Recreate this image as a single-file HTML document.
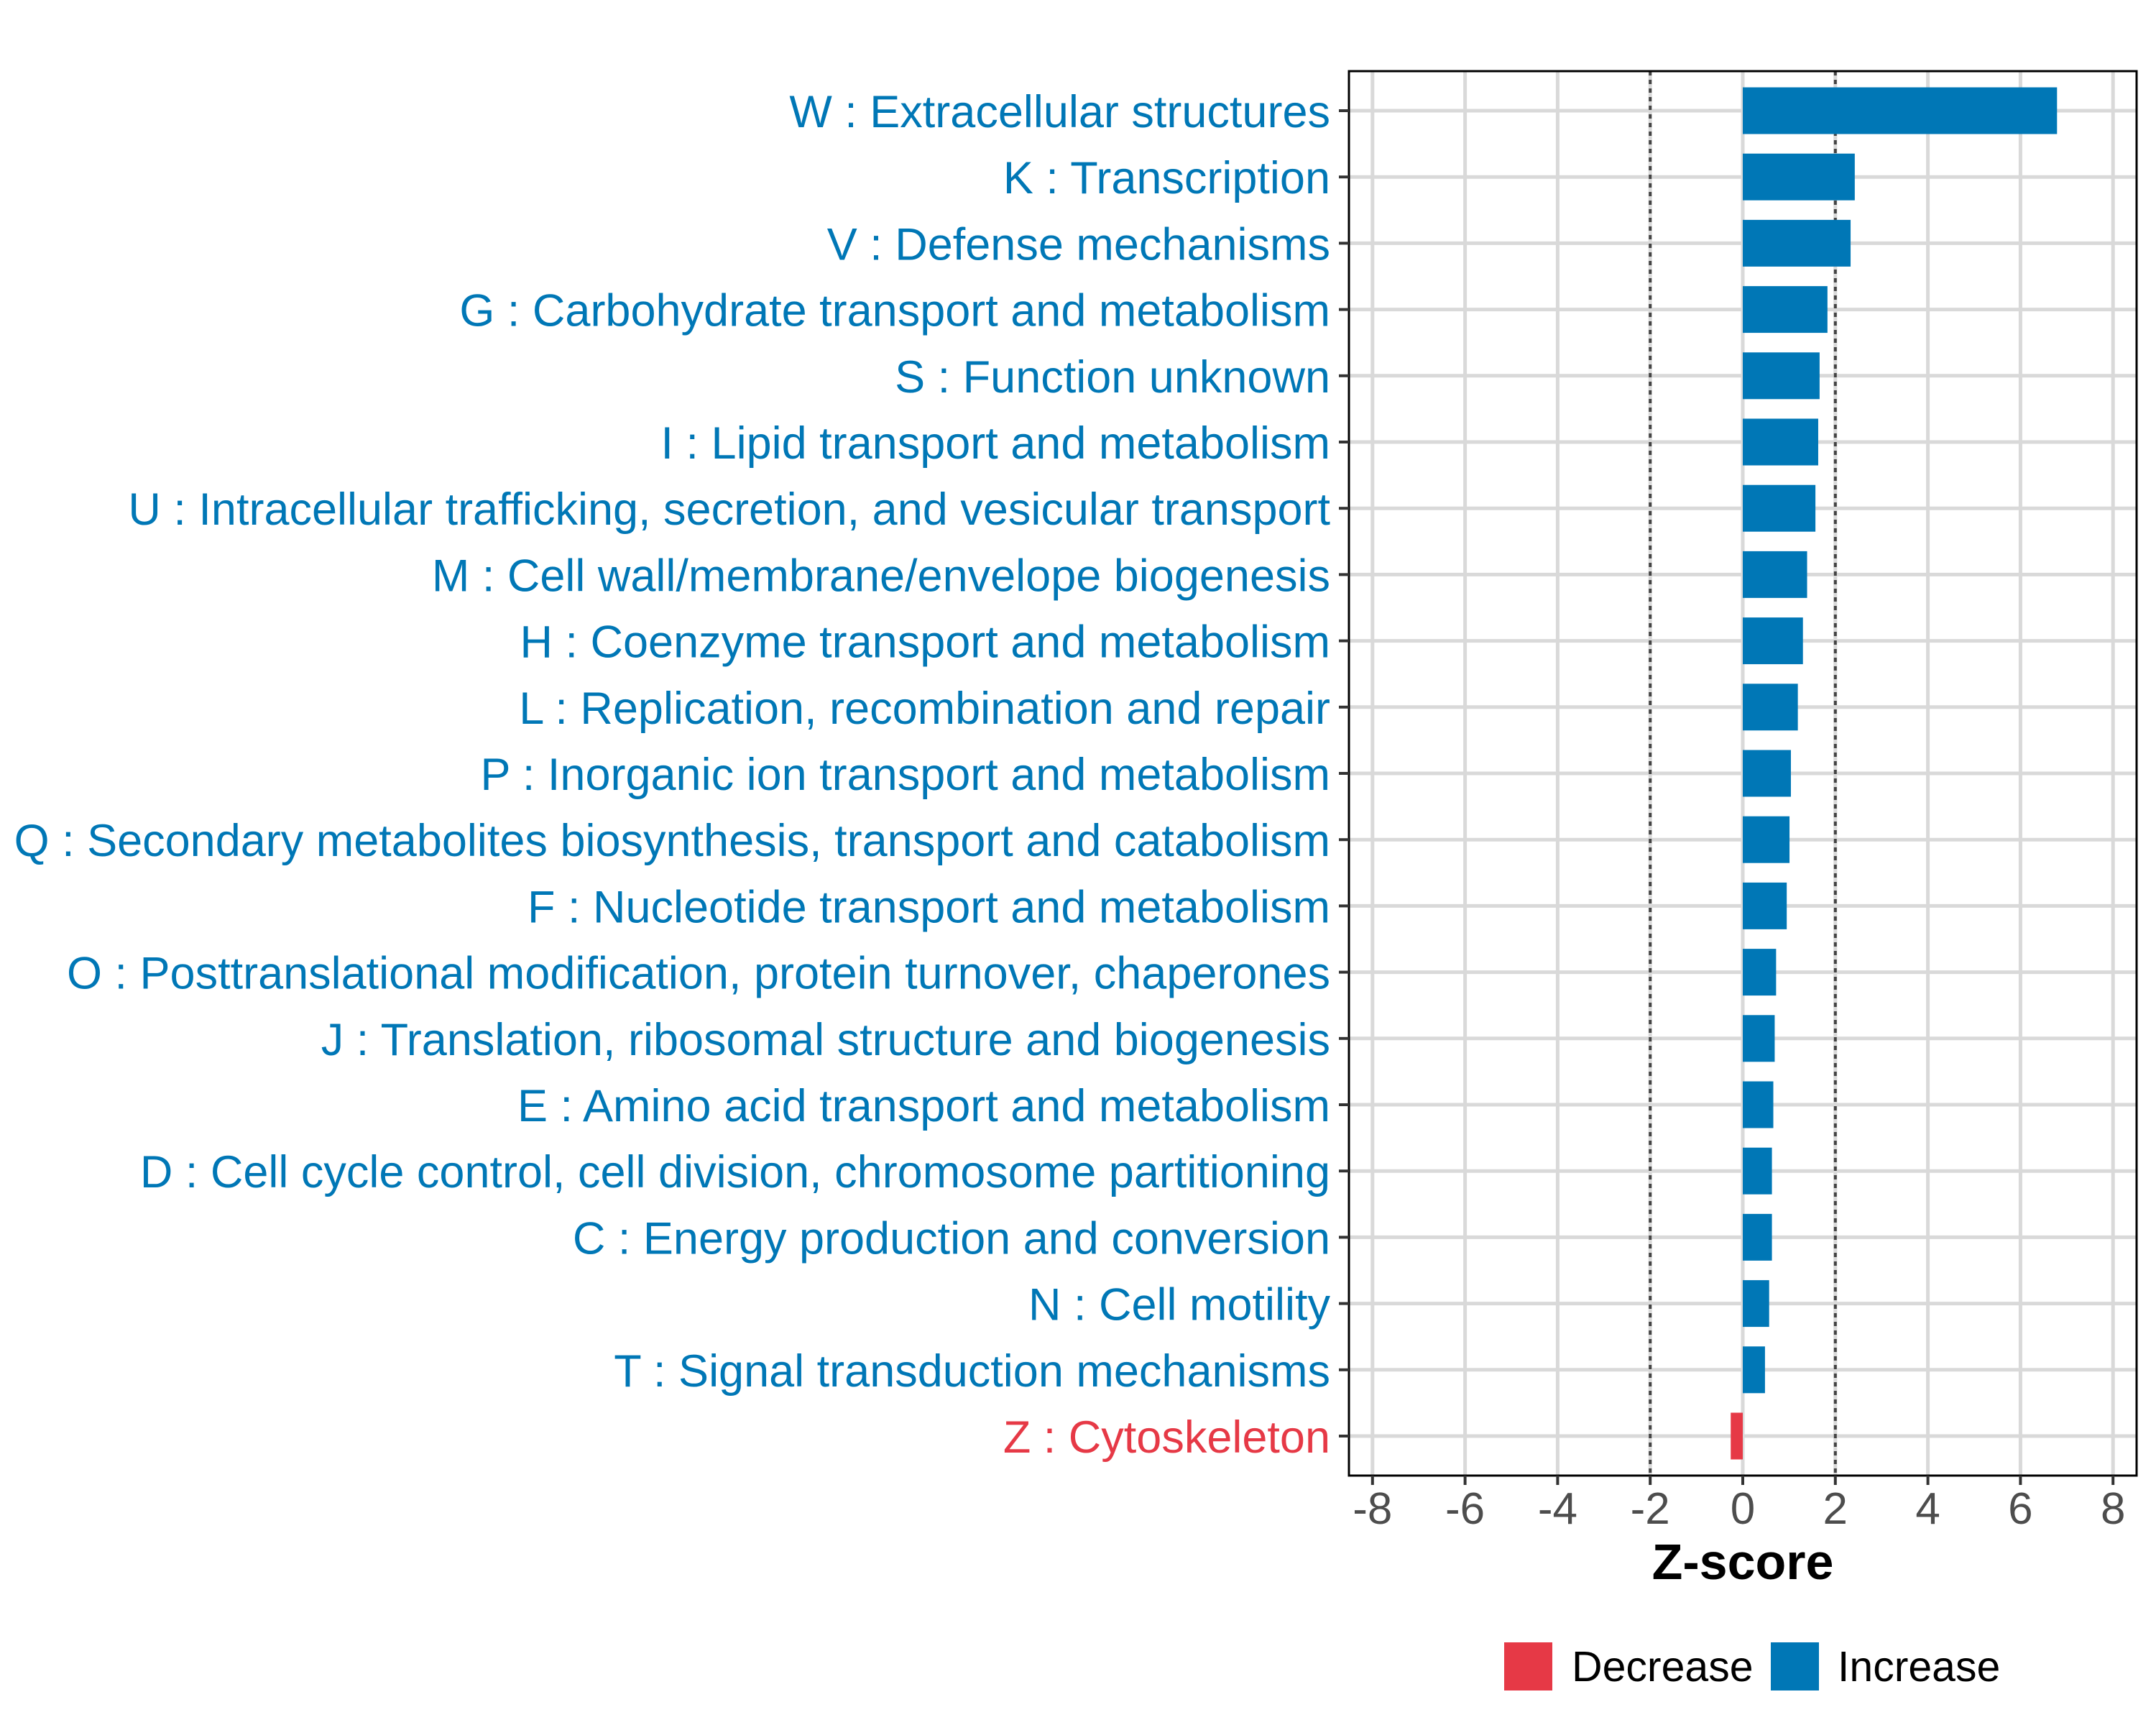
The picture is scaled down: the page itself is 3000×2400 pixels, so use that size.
<!DOCTYPE html>
<html><head><meta charset="utf-8"><style>
html,body{margin:0;padding:0;background:#fff;}
svg{display:block;font-family:"Liberation Sans",Arial,sans-serif;}
</style></head><body>
<svg id="chart" width="3000" height="2400" viewBox="0 0 3000 2400" xmlns="http://www.w3.org/2000/svg">
<rect width="3000" height="2400" fill="#fff"/>
<g id="grid"></g>
<g id="refs"></g>
<g id="bars"></g>
<rect x="1877" y="99" width="1096" height="1954" fill="none" stroke="#000" stroke-width="3"/>
<g id="yaxis"></g>
<g id="xaxis"></g>
<text x="2425" y="2197" font-size="70" font-weight="bold" text-anchor="middle" fill="#000">Z-score</text>
<g>
<rect x="2093" y="2285" width="67" height="67" fill="#e63946"/>
<text x="2187" y="2339" font-size="59" fill="#000">Decrease</text>
<rect x="2464" y="2285" width="67" height="67" fill="#0077b6"/>
<text x="2557" y="2339" font-size="59" fill="#000">Increase</text>
</g>
</svg>
<script>
const categories = [
"W : Extracellular structures","K : Transcription","V : Defense mechanisms",
"G : Carbohydrate transport and metabolism","S : Function unknown",
"I : Lipid transport and metabolism",
"U : Intracellular trafficking, secretion, and vesicular transport",
"M : Cell wall/membrane/envelope biogenesis","H : Coenzyme transport and metabolism",
"L : Replication, recombination and repair","P : Inorganic ion transport and metabolism",
"Q : Secondary metabolites biosynthesis, transport and catabolism",
"F : Nucleotide transport and metabolism",
"O : Posttranslational modification, protein turnover, chaperones",
"J : Translation, ribosomal structure and biogenesis",
"E : Amino acid transport and metabolism",
"D : Cell cycle control, cell division, chromosome partitioning",
"C : Energy production and conversion","N : Cell motility",
"T : Signal transduction mechanisms","Z : Cytoskeleton"];
const zscores = [6.79,2.42,2.33,1.83,1.66,1.63,1.57,1.39,1.30,1.19,1.04,1.01,0.95,0.72,0.69,0.66,0.63,0.63,0.57,0.48,-0.26];
const xTicks = [-8,-6,-4,-2,0,2,4,6,8];
const xTickLabels = ["-8","-6","-4","-2","0","2","4","6","8"];
const refLines = [-2,2];

const NS="http://www.w3.org/2000/svg";
const X0=2425, XU=64.4;
function xs(v){return X0+v*XU;}
function ys(i){return 154+i*92.2;}
const BLUE="#0077b6", RED="#e63946";
function mk(tag,attrs,parent){const e=document.createElementNS(NS,tag);for(const k in attrs)e.setAttribute(k,attrs[k]);parent.appendChild(e);return e;}
const grid=document.getElementById('grid'),refs=document.getElementById('refs'),bars=document.getElementById('bars'),yax=document.getElementById('yaxis'),xax=document.getElementById('xaxis');

xTicks.forEach((t,i)=>{
  const g=mk('line',{x1:xs(t),x2:xs(t),y1:99,y2:2053,stroke:"#d9d9d9","stroke-width":5},grid);
  
  
  const tk=mk('line',{x1:xs(t),x2:xs(t),y1:2053,y2:2066,stroke:"#333","stroke-width":4},xax);
  
  
  const lb=mk('text',{x:xs(t),y:2120,"font-size":62,"text-anchor":"middle",fill:"#4d4d4d"},xax);
  lb.textContent=xTickLabels[i];
  
  
});
categories.forEach((c,i)=>{
  const g=mk('line',{x1:1877,x2:2973,y1:ys(i),y2:ys(i),stroke:"#d9d9d9","stroke-width":5},grid);
  
  
});
refLines.forEach(r=>{
  const l=mk('line',{x1:xs(r),x2:xs(r),y1:99,y2:2053,stroke:"#444","stroke-width":4,"stroke-dasharray":"6 6"},refs);
  
  
});
categories.forEach((c,i)=>{
  const v=zscores[i], col=v<0?RED:BLUE;
  const x=Math.min(xs(0),xs(v)), w=Math.abs(xs(v)-xs(0));
  const b=mk('rect',{x:x,y:ys(i)-32.5,width:w,height:65,fill:col},bars);
  
  
  const tk=mk('line',{x1:1863,x2:1877,y1:ys(i),y2:ys(i),stroke:"#333","stroke-width":4},yax);
  
  
  const lb=mk('text',{x:1851,y:ys(i)+23,"font-size":63,"text-anchor":"end",fill:col},yax);
  lb.textContent=c;
  
  
});
</script>
</body></html>
